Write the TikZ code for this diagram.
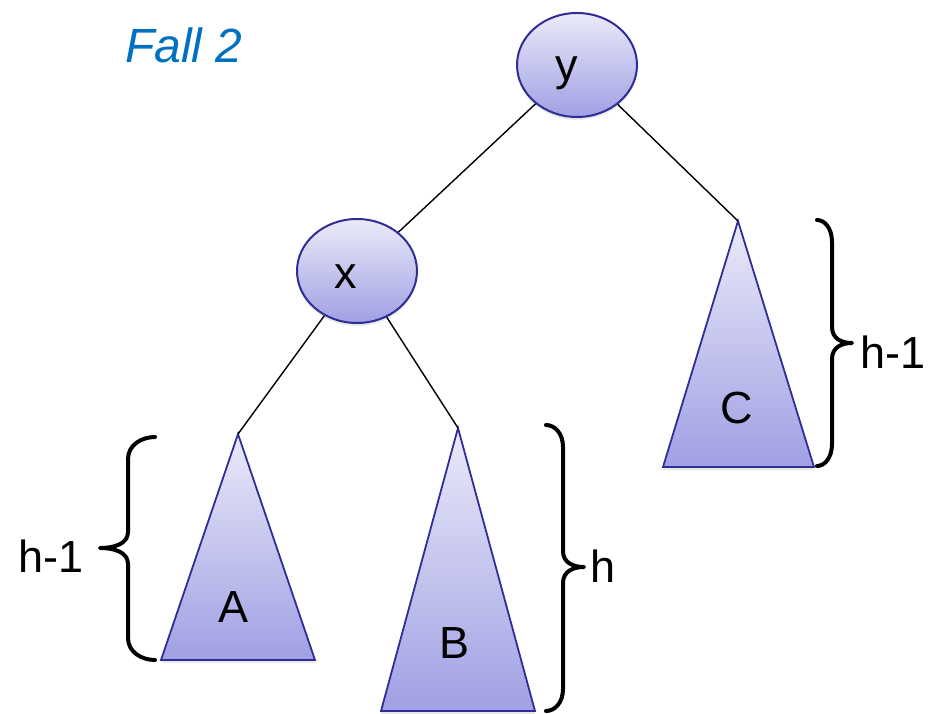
\documentclass[tikz,border=0pt]{standalone}
\usepackage{fontspec}
\setmainfont{Liberation Sans}
\usetikzlibrary{shapes.geometric,shadows}

\definecolor{nodeline}{RGB}{46,46,150}
\definecolor{shadetop}{RGB}{234,234,249}
\definecolor{shadebot}{RGB}{160,160,228}
\definecolor{titleblue}{RGB}{0,112,192}

\newcommand\biglabel{\fontsize{45}{54}\selectfont}
\newcommand\titlesize{\fontsize{48}{56}\selectfont}

% curly brace: #1 end x, #2 spine x, #3 tip x, #4 top y, #5 middle y, #6 bottom y
\newcommand\curlybrace[6]{%
  \draw[bracket] (#1,#4) .. controls ({(#1+#2)/2},#4) and (#2,{#4+8}) .. (#2,{#4+22})
    -- (#2,{#5-16}) .. controls (#2,{#5-4}) and ({(#2+#3)/2},#5) .. (#3,#5)
    .. controls ({(#2+#3)/2},#5) and (#2,{#5+4}) .. (#2,{#5+16})
    -- (#2,{#6-22}) .. controls (#2,{#6-8}) and ({(#1+#2)/2},#6) .. (#1,#6);}

\tikzset{
  softshadow/.style={drop shadow={opacity=0.18, shadow xshift=0pt, shadow yshift=-3pt}},
  treenode/.style={ellipse, draw=nodeline, line width=2pt, top color=shadetop,
    bottom color=shadebot, minimum width=120pt, minimum height=104pt,
    inner sep=0pt, font=\biglabel, softshadow},
  subtree/.style={draw=nodeline, line width=1.8pt, top color=shadetop,
    bottom color=shadebot, line join=miter, softshadow},
  edge/.style={line width=1.4pt, black},
  bracket/.style={line width=4pt, line cap=round, line join=round, black},
  lbl/.style={font=\biglabel, inner sep=0pt}
}

\begin{document}
\begin{tikzpicture}[x=1pt, y=-1pt]
  \useasboundingbox (0,0) rectangle (930,714);

  % title
  \node[font=\titlesize\itshape, text=titleblue, inner sep=0pt] (title) at (184,45) {Fall 2};

  % subtree apexes
  \coordinate (Atop) at (238,434);
  \coordinate (Btop) at (458,428);
  \coordinate (Ctop) at (738,221);

  % subtrees
  \path[subtree] (Atop) -- (161,660) -- (315,660) -- cycle;
  \path[subtree] (Btop) -- (381,711) -- (535,711) -- cycle;
  \path[subtree] (Ctop) -- (663,467) -- (814,467) -- cycle;
  \node[lbl] (A) at (234,607) {A};
  \node[lbl] (B) at (455,643) {B};
  \node[lbl] (C) at (737,408) {C};

  % inner nodes, labels set a little left of and below the centre
  \node[treenode] (y) at (577,65) {\hspace*{-20pt}\raisebox{-8pt}[\height][\depth]{y}};
  \node[treenode] (x) at (357,271) {\hspace*{-22pt}\raisebox{-6pt}[\height][\depth]{x}};

  % edges
  \draw[edge] (y) -- (x);
  \draw[edge] (y) -- (Ctop);
  \draw[edge] (x) -- (Atop);
  \draw[edge] (x) -- (Btop);

  % height braces
  \curlybrace{155}{128}{100}{437}{548}{660}
  \curlybrace{546}{563}{584}{425}{567}{711}
  \curlybrace{817}{832}{852}{220}{343}{466}
  \node[lbl] (hA) at (51,556) {h-1};
  \node[lbl] (hB) at (603,566) {h};
  \node[lbl] (hC) at (893,352) {h-1};
\end{tikzpicture}
\end{document}
